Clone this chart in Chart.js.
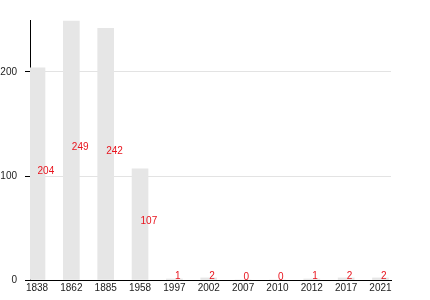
<!DOCTYPE html>
<html>
<head>
<meta charset="utf-8">
<script src="https://cdn.jsdelivr.net/npm/chart.js@4"></script>
<style>
  html, body { margin: 0; padding: 0; background: #fff; }
  #wrap { width: 430px; height: 300px; }
</style>
</head>
<body>
<div id="wrap"><canvas id="chart"></canvas></div>
<script>
const years = ['1838', '1862', '1885', '1958', '1997', '2002', '2007', '2010', '2012', '2017', '2021'];
const counts = [204, 249, 242, 107, 1, 2, 0, 0, 1, 2, 2];
const yTicks = [0, 100, 200];

// red number on each bar, baseline at the bar's middle
const valueLabels = {
  id: 'valueLabels',
  afterDatasetsDraw(chart) {
    const ctx = chart.ctx;
    const meta = chart.getDatasetMeta(0);
    ctx.save();
    ctx.font = '10px "Liberation Sans", Arial, sans-serif';
    ctx.fillStyle = '#e8141e';
    ctx.textAlign = 'left';
    ctx.textBaseline = 'alphabetic';
    meta.data.forEach((bar, i) => {
      const mid = (bar.y + bar.base) / 2;
      ctx.fillText(String(counts[i]), bar.x + 0.5, mid);
    });
    ctx.restore();
  }
};

const chart = new Chart(document.getElementById('chart'), {
  type: 'bar',
  data: {
    datasets: [{
      data: years.map((y, i) => ({ x: i, y: counts[i] })),
      backgroundColor: '#e6e6e6',
      borderWidth: 0,
      barThickness: 16
    }]
  },
  options: {
    responsive: true,
    maintainAspectRatio: false,
    animation: false,
    layout: { padding: { top: 20, right: 39, left: 0, bottom: 0 } },
    plugins: {
      legend: { display: false },
      tooltip: { enabled: false }
    },
    scales: {
      x: {
        type: 'linear',
        offset: false,
        min: -0.204,
        max: 10.306,
        grid: { display: false, drawTicks: false, tickLength: 0 },
        border: { display: true, color: '#000', width: 1 },
        afterFit: (s) => { s.height = 20; },
        ticks: {
          stepSize: 1,
          includeBounds: false,
          autoSkip: false,
          maxRotation: 0,
          padding: 2,
          color: '#222',
          font: { family: '"Liberation Sans", Arial, sans-serif', size: 10 },
          callback: (v) => Number.isInteger(v) ? years[v] : null
        }
      },
      y: {
        min: 0,
        max: 250,
        grid: { color: '#e3e3e3', tickColor: '#000', tickLength: 5 },
        border: { display: true, color: '#000', width: 1 },
        afterFit: (s) => { s.width = 30; },
        afterBuildTicks: (s) => { s.ticks = yTicks.map(v => ({ value: v })); },
        ticks: {
          padding: 8,
          color: '#222',
          font: { family: '"Liberation Sans", Arial, sans-serif', size: 10 }
        }
      }
    }
  },
  plugins: [valueLabels]
});
</script>
</body>
</html>
